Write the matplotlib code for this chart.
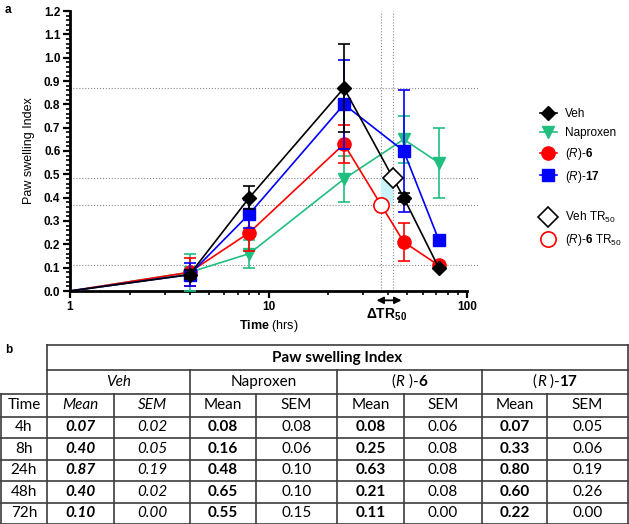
import matplotlib
matplotlib.use('Agg')
import matplotlib.pyplot as plt
import numpy as np
from matplotlib.lines import Line2D
from matplotlib.ticker import MultipleLocator, LogLocator, NullFormatter, FixedLocator, FormatStrFormatter

plt.rcParams['font.family'] = ['Liberation Sans', 'DejaVu Sans']
plt.rcParams['mathtext.fontset'] = 'custom'
plt.rcParams['mathtext.rm'] = 'Liberation Sans'
plt.rcParams['mathtext.it'] = 'Liberation Sans:italic'
plt.rcParams['mathtext.bf'] = 'Liberation Sans:bold'

# data (paw swelling index, mean and SEM)
times = [4, 8, 24, 48, 72]
time_labels = ['4h', '8h', '24h', '48h', '72h']
start_time = 1
start_value = 0.0
veh_mean = [0.07, 0.40, 0.87, 0.40, 0.10]
veh_sem = [0.02, 0.05, 0.19, 0.02, 0.00]
nap_mean = [0.08, 0.16, 0.48, 0.65, 0.55]
nap_sem = [0.08, 0.06, 0.10, 0.10, 0.15]
r6_mean = [0.08, 0.25, 0.63, 0.21, 0.11]
r6_sem = [0.06, 0.08, 0.08, 0.08, 0.00]
r17_mean = [0.07, 0.33, 0.80, 0.60, 0.22]
r17_sem = [0.05, 0.06, 0.19, 0.26, 0.00]
# TR50 points
veh_tr50 = (42.4, 0.485)
r6_tr50 = (36.9, 0.37)
ref_levels = [0.87, 0.485, 0.37, 0.11]

BLACK = '#000000'
GREEN = '#20BF80'
RED = '#FF0000'
BLUE = '#0000FF'

fig = plt.figure(figsize=(6.29, 5.24), dpi=100)
W, H = 629.0, 524.0
ax = fig.add_axes([70 / W, 1 - 291 / H, (467 - 70) / W, (291 - 11) / H])

# reference dotted lines
for lv in ref_levels:
    ax.plot([start_time, 115], [lv, lv], ls=':', color='#8a8a8a', lw=0.8, clip_on=False, zorder=1)
for tx in [r6_tr50[0], veh_tr50[0]]:
    ax.plot([tx, tx], [0, 1.2], ls=':', color='#8a8a8a', lw=0.8, zorder=1)
ax.fill_between([r6_tr50[0], veh_tr50[0]], r6_tr50[1], veh_tr50[1], color='#c8f3f8', lw=0, zorder=1)

series = [
    ('Naproxen', nap_mean, nap_sem, GREEN, 'v', 9),
    (r'($\mathit{R}$)-$\mathbf{6}$', r6_mean, r6_sem, RED, 'o', 9.5),
    (r'($\mathit{R}$)-$\mathbf{17}$', r17_mean, r17_sem, BLUE, 's', 9),
    ('Veh', veh_mean, veh_sem, BLACK, 'D', 7),
]
handles = {}
for i, (name, m, s, c, mk, ms) in enumerate(series):
    ax.plot([start_time] + times, [start_value] + m, color=c, lw=1.2, zorder=3 + i)
    ax.errorbar(times, m, yerr=s, fmt=mk, color=c, ms=ms, capsize=4.5,
                elinewidth=1.2, capthick=1.2, zorder=3 + i)
    handles[name] = Line2D([], [], color=c, marker=mk, ms=ms, lw=1.2)

ax.plot(*veh_tr50, marker='D', ms=10, mfc='white', mec=BLACK, mew=1.2, zorder=8)
ax.plot(*r6_tr50, marker='o', ms=11, mfc='white', mec=RED, mew=1.2, zorder=8)

# axes styling
ax.set_xscale('log')
ax.set_xlim(1, 100)
ax.set_ylim(0, 1.2)
ax.xaxis.set_major_locator(FixedLocator([1, 10, 100]))
ax.set_xticklabels(['1', '10', '100'])
ax.xaxis.set_minor_locator(LogLocator(subs=np.arange(2, 10)))
ax.xaxis.set_minor_formatter(NullFormatter())
ax.yaxis.set_major_locator(MultipleLocator(0.1))
ax.yaxis.set_minor_locator(MultipleLocator(0.02))
ax.yaxis.set_major_formatter(FormatStrFormatter('%.1f'))
for sp in ['top', 'right']:
    ax.spines[sp].set_visible(False)
for sp in ['left', 'bottom']:
    ax.spines[sp].set_linewidth(2.0)
ax.tick_params(which='major', length=5, width=1.6, labelsize=8.5, pad=2)
ax.tick_params(which='minor', length=3, width=1.2)
for lab in ax.get_xticklabels() + ax.get_yticklabels():
    lab.set_fontweight('bold')
ax.set_ylabel('Paw swelling Index', fontsize=9, labelpad=6)
ax.set_xlabel(r'$\mathbf{Time}$ (hrs)', fontsize=9, labelpad=4)

ax.annotate('', xy=(33.9, -0.04), xytext=(48.3, -0.04), xycoords='data',
            arrowprops=dict(arrowstyle='<|-|>', color=BLACK, lw=1.3, mutation_scale=10),
            annotation_clip=False)
ax.text(39.5, -0.1, r'Δ$\mathbf{TR}_{\mathbf{50}}$', fontsize=10, fontweight='bold',
        ha='center', va='center')

# legend
blank = Line2D([], [], lw=0)
leg_handles = [handles['Veh'], handles['Naproxen'], handles[series[1][0]], handles[series[2][0]], blank,
               Line2D([], [], marker='D', ms=10, mfc='white', mec=BLACK, mew=1.2, lw=0),
               Line2D([], [], marker='o', ms=11, mfc='white', mec=RED, mew=1.2, lw=0)]
leg_labels = ['Veh', 'Naproxen', series[1][0], series[2][0], '',
              r'Veh TR$_{50}$', r'($\mathit{R}$)-$\mathbf{6}$ TR$_{50}$']
fig.legend(leg_handles, leg_labels, loc='upper left', bbox_to_anchor=(540 / W, 1 - 108 / H),
           frameon=False, fontsize=8.5, handlelength=1.4, handletextpad=0.7,
           labelspacing=0.58, borderpad=0, borderaxespad=0)

fig.text(5 / W, 1 - 10 / H, 'a', fontsize=8.5, fontweight='bold', ha='left', va='center')
fig.text(5 / W, 1 - 350 / H, 'b', fontsize=8.5, fontweight='bold', ha='left', va='center')

# table (panel b) in pixel coordinates
tab = fig.add_axes([0, 0, 1, 189 / H])
tab.set_xlim(0, W)
tab.set_ylim(H, 335)
tab.axis('off')
TF = 'Lato'
TS = 11
LC = '#3c3c3c'
LW = 1.2

col_edges = [0.8, 47, 114, 190, 256, 337, 404, 482, 547, 628]
row_edges = [345, 370, 394, 416.5, 438, 459.5, 481, 502.5, 523.5]

def hline(y, x0, x1):
    tab.plot([x0, x1], [y, y], color=LC, lw=LW, clip_on=False, solid_capstyle='projecting')

def vline(x, y0, y1):
    tab.plot([x, x], [y0, y1], color=LC, lw=LW, clip_on=False, solid_capstyle='projecting')

hline(row_edges[0], 47, 628)
hline(row_edges[1], 47, 628)
for y in row_edges[2:]:
    hline(y, 0.8, 628)
for x in col_edges:
    if x in (47, 628):
        vline(x, row_edges[0], row_edges[-1])
    elif x in (190, 337, 482):
        vline(x, row_edges[1], row_edges[-1])
    else:
        vline(x, row_edges[2], row_edges[-1])

def cell(x, y, s, style='normal', weight='normal'):
    tab.text(x, y, s, fontsize=TS, family=TF, style=style, weight=weight, ha='center', va='center')

renderer = fig.canvas.get_renderer()

def rich(xc, y, parts):
    widths = []
    objs = []
    for s, style, weight in parts:
        t = tab.text(0, y, s, fontsize=TS, family=TF, style=style, weight=weight, ha='left', va='center')
        widths.append(t.get_window_extent(renderer).width)
        objs.append(t)
    x = xc - sum(widths) / 2
    for t, w in zip(objs, widths):
        t.set_x(x)
        x += w

def mid(i):
    return (col_edges[i] + col_edges[i + 1]) / 2

def rmid(j):
    return (row_edges[j] + row_edges[j + 1]) / 2

cell((47 + 628) / 2, rmid(0), 'Paw swelling Index', weight='bold')
cell((47 + 190) / 2, rmid(1), 'Veh', style='italic')
cell((190 + 337) / 2, rmid(1), 'Naproxen')
rich((337 + 482) / 2, rmid(1), [('(', 'normal', 'normal'), ('R', 'italic', 'normal'),
                                  (' )-', 'normal', 'normal'), ('6', 'normal', 'bold')])
rich((482 + 628) / 2, rmid(1), [('(', 'normal', 'normal'), ('R', 'italic', 'normal'),
                                  (' )-', 'normal', 'normal'), ('17', 'normal', 'bold')])

cell(mid(0), rmid(2), 'Time')
for k in range(4):
    st = 'italic' if k == 0 else 'normal'
    cell(mid(1 + 2 * k), rmid(2), 'Mean', style=st)
    cell(mid(2 + 2 * k), rmid(2), 'SEM', style=st)

groups = [(veh_mean, veh_sem), (nap_mean, nap_sem), (r6_mean, r6_sem), (r17_mean, r17_sem)]
for r, lab in enumerate(time_labels):
    y = rmid(3 + r)
    cell(mid(0), y, lab)
    for k, (m, s) in enumerate(groups):
        st = 'italic' if k == 0 else 'normal'
        cell(mid(1 + 2 * k), y, '%.2f' % m[r], style=st, weight='bold')
        cell(mid(2 + 2 * k), y, '%.2f' % s[r], style=st)

fig.savefig('out.png', dpi=100)
